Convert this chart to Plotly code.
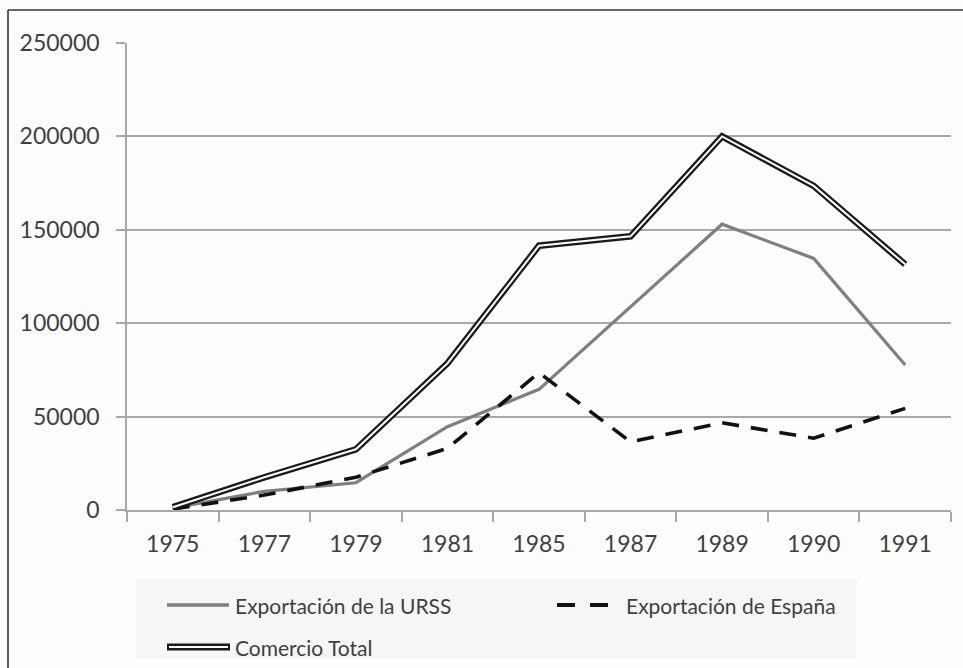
import plotly.graph_objects as go

# Years (categorical axis) and series values
years = ["1975", "1977", "1979", "1981", "1985", "1987", "1989", "1990", "1991"]
export_urss = [1000, 10000, 14600, 44600, 64600, 109000, 153000, 134700, 77600]
export_espana = [500, 8000, 17500, 33000, 73500, 36500, 46700, 38400, 54400]
comercio_total = [1500, 17500, 32500, 78500, 141500, 146500, 200000, 173500, 131500]

y_ticks = [0, 50000, 100000, 150000, 200000, 250000]

legend_labels = ["Exportación de la URSS", "Exportación de España", "Comercio Total"]

FONT = "Lato"
TEXT = "#404040"
GRID = "#a8a8a8"
BG = "#fdfdfd"

# Plot-area geometry (pixels) used to place decorations in paper coordinates
W, H = 963, 668
L, R, T, B = 127, 12, 43, 158
PW, PH = W - L - R, H - T - B


def px(x):
    return (x - L) / PW


def py(y):
    return (H - B - y) / PH


fig = go.Figure()

fig.add_trace(go.Scatter(
    x=years, y=export_urss, mode="lines",
    line=dict(color="#7f7f7f", width=3.2), showlegend=False,
    name=legend_labels[0],
))
fig.add_trace(go.Scatter(
    x=years, y=export_espana, mode="lines",
    line=dict(color="#111111", width=3.6, dash="17px,12px"), showlegend=False,
    name=legend_labels[1],
))
# Double line: thick dark stroke with a thin light stroke on top
fig.add_trace(go.Scatter(
    x=years, y=comercio_total, mode="lines",
    line=dict(color="#1a1a1a", width=6.5), showlegend=False,
    name=legend_labels[2],
))
fig.add_trace(go.Scatter(
    x=years, y=comercio_total, mode="lines",
    line=dict(color=BG, width=2), showlegend=False,
    hoverinfo="skip",
))

shapes = []
annotations = []

# Outer frame (top and left edges)
shapes.append(dict(type="line", xref="paper", yref="paper",
                   x0=px(8), x1=px(W + 5), y0=py(10), y1=py(10),
                   line=dict(color="#333333", width=1.6)))
shapes.append(dict(type="line", xref="paper", yref="paper",
                   x0=px(8), x1=px(8), y0=py(10), y1=py(H + 5),
                   line=dict(color="#333333", width=1.6)))

# Legend panel
shapes.append(dict(type="rect", xref="paper", yref="paper",
                   x0=px(136), x1=px(857), y0=py(579), y1=py(658),
                   fillcolor="#f6f6f6", line=dict(width=0), layer="below"))

# Legend symbols
row1, row2 = 605, 647
shapes.append(dict(type="line", xref="paper", yref="paper",
                   x0=px(167), x1=px(229), y0=py(row1), y1=py(row1),
                   line=dict(color="#7f7f7f", width=3.6)))
shapes.append(dict(type="line", xref="paper", yref="paper",
                   x0=px(557), x1=px(575), y0=py(row1), y1=py(row1),
                   line=dict(color="#111111", width=4)))
shapes.append(dict(type="line", xref="paper", yref="paper",
                   x0=px(590), x1=px(608), y0=py(row1), y1=py(row1),
                   line=dict(color="#111111", width=4)))
shapes.append(dict(type="line", xref="paper", yref="paper",
                   x0=px(167), x1=px(230), y0=py(row2), y1=py(row2),
                   line=dict(color="#1a1a1a", width=7)))
shapes.append(dict(type="line", xref="paper", yref="paper",
                   x0=px(169), x1=px(228), y0=py(row2), y1=py(row2),
                   line=dict(color=BG, width=2)))

for text, x0, y0 in [(legend_labels[0], 233, row1),
                     (legend_labels[1], 624, row1),
                     (legend_labels[2], 233, row2)]:
    annotations.append(dict(text=text, xref="paper", yref="paper",
                            x=px(x0), y=py(y0), xanchor="left", yanchor="middle",
                            showarrow=False,
                            font=dict(family=FONT, size=21, color=TEXT)))

fig.update_layout(
    width=W, height=H,
    margin=dict(l=L, r=R, t=T, b=B),
    paper_bgcolor=BG,
    plot_bgcolor=BG,
    font=dict(family=FONT, color=TEXT),
    shapes=shapes,
    annotations=annotations,
    showlegend=False,
)

fig.update_xaxes(
    type="category",
    categoryorder="array", categoryarray=years,
    range=[-0.5, len(years) - 0.5],
    automargin=False,
    showline=True, linecolor=GRID, linewidth=1.6,
    ticks="outside", tickson="boundaries", ticklen=10, tickcolor=GRID, tickwidth=1.6,
    showgrid=False,
    tickfont=dict(family=FONT, size=23, color=TEXT),
    ticklabelstandoff=13,
)
fig.update_yaxes(
    range=[0, 250000],
    automargin=False,
    tickvals=y_ticks, ticktext=[str(v) for v in y_ticks],
    showline=True, linecolor=GRID, linewidth=1.6,
    ticks="outside", ticklen=9, tickcolor=GRID, tickwidth=1.6,
    showgrid=True, gridcolor=GRID, gridwidth=1.6,
    zeroline=False,
    tickfont=dict(family=FONT, size=23, color=TEXT),
    ticklabelstandoff=12,
)

fig.write_html("out.html")
